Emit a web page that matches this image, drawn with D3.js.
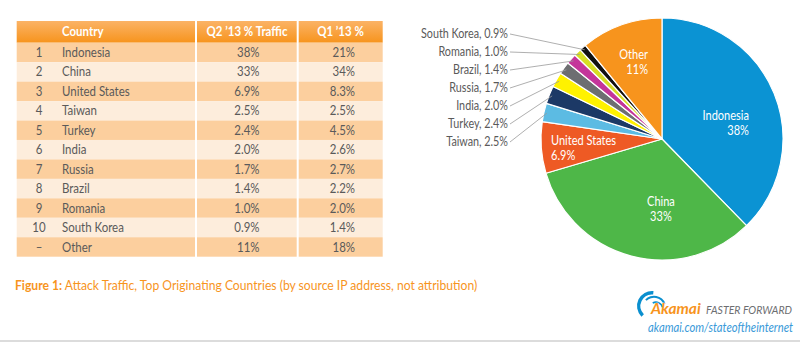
<!DOCTYPE html>
<html>
<head>
<meta charset="utf-8">
<script src="https://cdn.jsdelivr.net/npm/d3@7"></script>
<style>
  html, body { margin: 0; padding: 0; background: #ffffff; }
  svg { display: block; }
  text { font-family: "Lato", "Liberation Sans", sans-serif; }
</style>
</head>
<body>
<svg id="chart" width="800" height="342"></svg>
<script>
// ---------- data ----------
const ranks     = ["1", "2", "3", "4", "5", "6", "7", "8", "9", "10", "–"];
const countries = ["Indonesia", "China", "United States", "Taiwan", "Turkey", "India",
                   "Russia", "Brazil", "Romania", "South Korea", "Other"];
const q2Values  = [38, 33, 6.9, 2.5, 2.4, 2.0, 1.7, 1.4, 1.0, 0.9, 11];
const q2Labels  = ["38%", "33%", "6.9%", "2.5%", "2.4%", "2.0%", "1.7%", "1.4%", "1.0%", "0.9%", "11%"];
const q1Labels  = ["21%", "34%", "8.3%", "2.5%", "4.5%", "2.6%", "2.7%", "2.2%", "2.0%", "1.4%", "18%"];
const headers   = ["Country", "Q2 \u201913 % Traffic", "Q1 \u201913 %"];
const sliceColors = ["#0b93d3", "#4eb748", "#ee5a24", "#5cbbe3", "#1c3966", "#fff200",
                     "#6d6e71", "#c4359a", "#d6de24", "#111111", "#f7941d"];
const insideLabels = ["Indonesia", "China", "United States", "Other"];
const captionBold = "Figure 1:";
const captionText = " Attack Traffic, Top Originating Countries (by source IP address, not attribution)";

const svg = d3.select("#chart");
const defs = svg.append("defs");
const grad = defs.append("linearGradient").attr("id", "hdr").attr("x1", 0).attr("y1", 0).attr("x2", 0).attr("y2", 1);
grad.append("stop").attr("offset", "0%").attr("stop-color", "#fbb366");
grad.append("stop").attr("offset", "100%").attr("stop-color", "#f7941d");

// condensed text helper (reference font is narrow)
const SX = 0.85;
function T(parent, x, y, sx = SX) {
  return parent.append("text").attr("transform", `translate(${x},${y}) scale(${sx},1)`);
}

// ---------- table ----------
const tLeft = 16.7, tRight = 382.7, col1 = 196, col2 = 297.7;
const hdrTop = 21, hdrBottom = 42.7, tBottom = 256.7;
const yRow = d3.scaleBand().domain(d3.range(countries.length)).range([hdrBottom, tBottom]);
const colX = [[tLeft, col1], [col1, col2], [col2, tRight]];

const table = svg.append("g");
colX.forEach(([a, b], i) => {
  table.append("rect").attr("x", a + (i ? 1 : 0)).attr("y", hdrTop)
    .attr("width", b - a - (i ? 1 : 0) - (i < 2 ? 1 : 0)).attr("height", hdrBottom - hdrTop)
    .attr("fill", "url(#hdr)");
});
countries.forEach((c, r) => {
  colX.forEach(([a, b], i) => {
    table.append("rect").attr("x", a + (i ? 1 : 0)).attr("y", yRow(r))
      .attr("width", b - a - (i ? 1 : 0) - (i < 2 ? 1 : 0)).attr("height", yRow.bandwidth())
      .attr("fill", r % 2 === 0 ? "#fccf9e" : "#fdeddc");
  });
});
const hdrY = (hdrTop + hdrBottom) / 2 + 4.6;
T(table, 62, hdrY).attr("fill", "#fff").attr("font-weight", "bold").attr("font-size", 13.5).text(headers[0]);
T(table, 247, hdrY).attr("fill", "#fff").attr("text-anchor", "middle")
  .attr("font-weight", "bold").attr("font-size", 13.5).text(headers[1]);
T(table, 340.5, hdrY).attr("fill", "#fff").attr("text-anchor", "middle")
  .attr("font-weight", "bold").attr("font-size", 13.5).text(headers[2]);

countries.forEach((c, i) => {
  const y = yRow(i) + yRow.bandwidth() / 2 + 4.6;
  const cell = (x, anchor, s) => T(table, x, y).attr("text-anchor", anchor)
    .attr("fill", "#5a5a5a").attr("font-size", 13.5).text(s);
  cell(39, "middle", ranks[i]);
  cell(62, "start", c);
  cell(259.5, "end", q2Labels[i]);
  cell(355, "end", q1Labels[i]);
});

// ---------- pie ----------
const cx = 662, cy = 139, R = 121;
const pie = d3.pie().sort(null).value(d => d);
const arcs = pie(q2Values);
const arc = d3.arc().innerRadius(0).outerRadius(R);
const gPie = svg.append("g").attr("transform", `translate(${cx},${cy})`);
gPie.selectAll("path").data(arcs).join("path")
  .attr("d", arc).attr("fill", (d, i) => sliceColors[i])
  .attr("stroke", "#fff").attr("stroke-width", 1.2).attr("stroke-linejoin", "round");

// inside labels: anchored near each slice centroid
const labelArc = d3.arc().innerRadius(0).outerRadius(2 * 75);
const labelPlace = {
  "Indonesia":     { dx: 17.5,  dy: 9.7,  anchor: "end" },
  "China":         { dx: 17.9,  dy: -5.4, anchor: "middle" },
  "United States": { dx: -36.2, dy: 0.8,  anchor: "start" },
  "Other":         { dx: 11.2,  dy: -9.8, anchor: "end" }
};
arcs.forEach((a, i) => {
  const name = countries[i];
  if (!insideLabels.includes(name)) return;
  const [x, y] = labelArc.centroid(a);
  const p = labelPlace[name];
  T(gPie, x + p.dx, y + p.dy).attr("fill", "#fff").attr("font-size", 13)
    .attr("text-anchor", p.anchor).text(name);
  T(gPie, x + p.dx, y + p.dy + 15).attr("fill", "#fff").attr("font-size", 13)
    .attr("text-anchor", p.anchor).text(q2Labels[i]);
});

const outside = d3.range(3, 10);
const yOut = d3.scalePoint().domain(outside.slice().reverse()).range([34, 142]);
const labelX = 508;
outside.forEach(i => {
  const a = arcs[i];
  const mid = (a.startAngle + a.endAngle) / 2;
  const px = cx + (R - 3) * Math.sin(mid), py = cy - (R - 3) * Math.cos(mid);
  const ly = yOut(i);
  svg.append("line").attr("x1", labelX + 2).attr("y1", ly).attr("x2", px).attr("y2", py)
    .attr("stroke", "#9a9a9a").attr("stroke-width", 0.8);
  T(svg, labelX, ly + 4.4).attr("text-anchor", "end")
    .attr("fill", "#5a5a5a").attr("font-size", 12.7)
    .text(`${countries[i]}, ${q2Labels[i]}`);
});

// ---------- caption ----------
const cap = T(svg, 15, 290, 0.9).attr("font-size", 13.5).attr("fill", "#f7941d");
cap.append("tspan").attr("font-weight", "bold").text(captionBold);
cap.append("tspan").text(captionText);

// ---------- logo ----------
const sw = d3.arc();
const swooshes = [
  { cx: 652, cy: 306, r0: 11.5, r1: 15,   a0: -2.36, a1: 0.1 },
  { cx: 654, cy: 308, r0: 10.3, r1: 12.3, a0: -0.8,  a1: 1.2 },
  { cx: 656, cy: 309, r0: 6,    r1: 7.6,  a0: -0.5,  a1: 1.3 }
];
swooshes.forEach(s => {
  svg.append("path").attr("transform", `translate(${s.cx},${s.cy})`)
    .attr("d", sw({ innerRadius: s.r0, outerRadius: s.r1, startAngle: s.a0, endAngle: s.a1 }))
    .attr("fill", "#0a8fcf");
});
svg.append("text").attr("x", 651).attr("y", 314).attr("font-family", "Liberation Sans, Arial, sans-serif")
  .attr("font-size", 15.5).attr("font-weight", "bold").attr("font-style", "italic").attr("fill", "#f7941d")
  .attr("stroke", "#fff").attr("stroke-width", 0.6).attr("paint-order", "stroke")
  .text("Akamai");
svg.append("text").attr("x", 706).attr("y", 314).attr("font-family", "Liberation Sans, Arial, sans-serif")
  .attr("font-size", 10.5).attr("font-style", "italic").attr("fill", "#6d6e71")
  .text("FASTER FORWARD");
T(svg, 793, 332, 0.9).attr("text-anchor", "end")
  .attr("font-size", 12.5).attr("font-style", "italic").attr("fill", "#3a9ad9")
  .text("akamai.com/stateoftheinternet");

svg.append("line").attr("x1", 0).attr("x2", 800).attr("y1", 341).attr("y2", 341)
  .attr("stroke", "#dcdcdc").attr("stroke-width", 2);
</script>
</body>
</html>
